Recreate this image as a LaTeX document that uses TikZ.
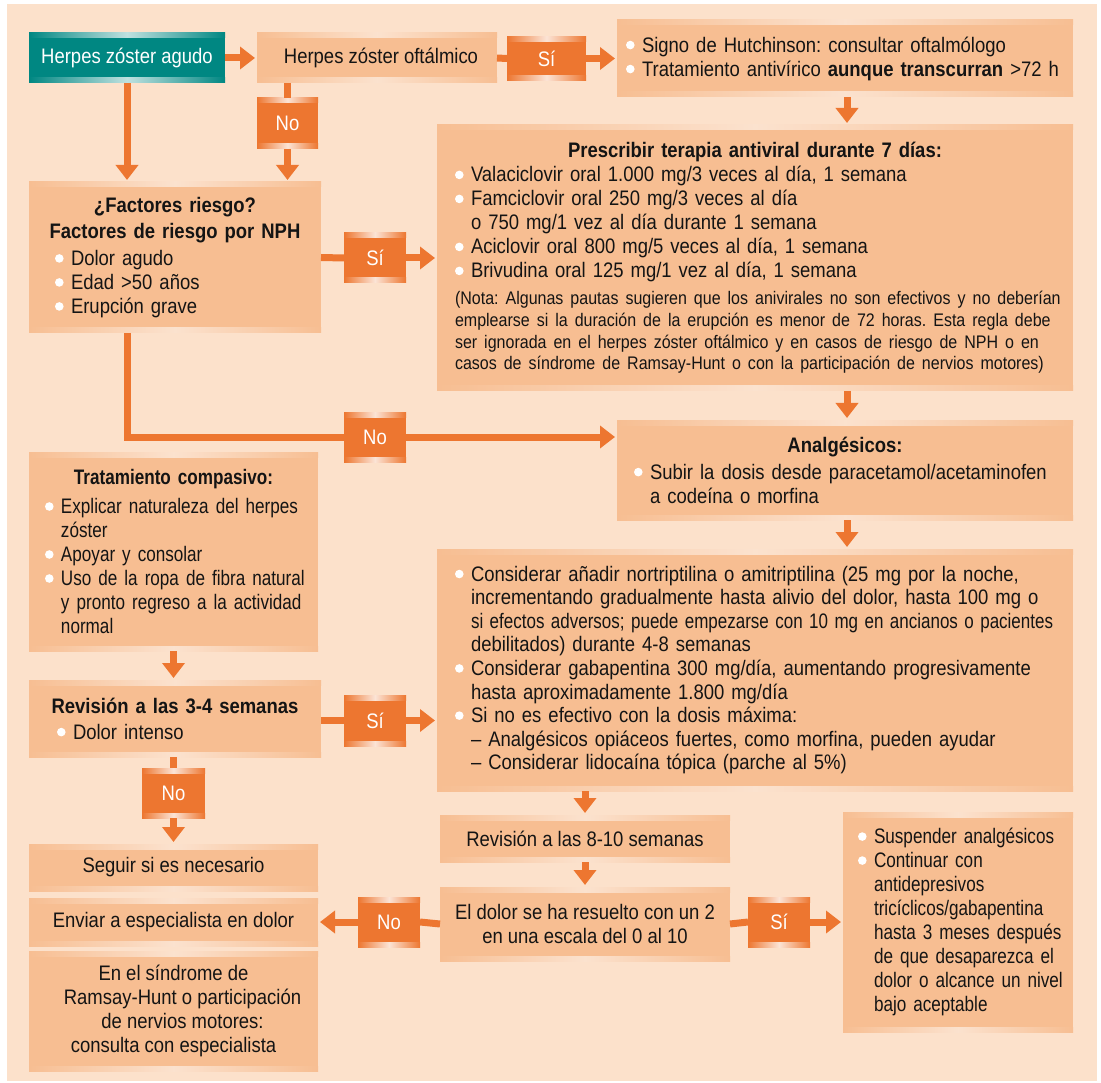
\documentclass[tikz,border=0pt]{standalone}
\usepackage{graphicx}
\usepackage{fontspec}
\setmainfont{Liberation Sans}[FakeStretch=0.88]
\newfontfamily\narrowf{Liberation Sans}[FakeStretch=0.815]
\usetikzlibrary{arrows.meta}
\definecolor{bgc}{RGB}{252,225,203}
\definecolor{boxc}{RGB}{247,190,146}
\definecolor{orc}{RGB}{237,118,48}
\definecolor{tealc}{RGB}{0,135,130}
\definecolor{txt}{RGB}{20,20,20}
\setlength{\parindent}{0pt}
\setlength{\parskip}{0pt}
\frenchspacing
\newcommand\fs{\fontsize{21}{24}\selectfont}
\newcommand\fsn{\fontsize{18.2}{21.7}\selectfont}
\newcommand\bl{\makebox[16pt][l]{\tikz[baseline=0pt]{\useasboundingbox (0pt,0pt) rectangle (9pt,1pt);\fill[white] (4.3pt,7pt) circle (4.3pt);}}}
\newcommand\ind{\hspace*{16pt}}
\newcommand\li[1]{\mbox{#1}\par}
\newcommand\ct[1]{\makebox[\hsize][c]{#1}\par}
\newcommand\stripes[2]{%
  \shade[left color=#1,right color=#1,middle color=white!#2!#1]
    (path picture bounding box.north west) rectangle ([yshift=-5pt]path picture bounding box.north east);
  \shade[left color=#1,right color=#1,middle color=white!#2!#1]
    ([yshift=5pt]path picture bounding box.south west) rectangle (path picture bounding box.south east);}
\tikzset{
  bx/.style 2 args={minimum width=#1pt, minimum height=#2pt},
  box/.style={fill=boxc, text=txt, inner ysep=0pt, font=\fs, align=left, path picture={\stripes{boxc}{55}}},
  cbox/.style={fill=boxc, text=txt, inner sep=0pt, font=\fs, align=center, path picture={\stripes{boxc}{55}}},
  tbox/.style={fill=tealc, text=white, inner sep=0pt, font=\fs, align=center, path picture={\stripes{tealc}{75}}},
  lbl/.style={fill=orc, text=white, inner sep=0pt, font=\fs, path picture={\stripes{orc}{80}}},
  ln/.style={draw=orc, line width=7pt},
  arr/.style={draw=orc, line width=7pt, shorten >=2pt, -{Triangle[width=22pt,length=15pt]}},
}
\begin{document}
\begin{tikzpicture}[x=1pt,y=-1pt, every node/.style={outer sep=0pt}]
\useasboundingbox (0,0) rectangle (1101,1083);
\fill[white] (0,0) rectangle (1101,1083);
\fill[bgc] (7,4) rectangle (1097,1081);

% boxes
\node[tbox, bx={196}{50}] (b1) at (127,58) {Herpes zóster agudo};
\node[cbox, bx={240}{50}] (b2) at (377,58) {\hspace*{8pt}Herpes zóster oftálmico};
\node[lbl, bx={79}{44}] (s1) at (546.5,58.5) {Sí};
\node[box, bx={456}{77}, text width=438pt, inner xsep=9pt] (b3) at (845,58.5) {%
\li{\bl Signo de Hutchinson: consultar oftalmólogo}
\li{\bl Tratamiento antivírico \textbf{aunque transcurran} >72 h}};

\node[box, bx={636}{266}, text width=600pt, inner xsep=18pt] (b4) at (755,258) {%
\ct{\bfseries Prescribir terapia antiviral durante 7 días:}
\li{\bl Valaciclovir oral 1.000 mg/3 veces al día, 1 semana}
\li{\bl Famciclovir oral 250 mg/3 veces al día}
\li{\ind o 750 mg/1 vez al día durante 1 semana}
\li{\bl Aciclovir oral 800 mg/5 veces al día, 1 semana}
\li{\bl Brivudina oral 125 mg/1 vez al día, 1 semana}
{\fsn\vspace{5pt}%
\li{(Nota: Algunas pautas sugieren que los anivirales no son efectivos y no deberían}
\li{emplearse si la duración de la erupción es menor de 72 horas. Esta regla debe}
\li{ser ignorada en el herpes zóster oftálmico y en casos de riesgo de NPH o en}
\li{casos de síndrome de Ramsay-Hunt o con la participación de nervios motores)}}};

\node[lbl, bx={61}{51}] (n1) at (287.5,123.5) {No};

\node[box, bx={292}{151}, text width=240pt, inner xsep=26pt] (b5) at (175,257.5) {%
\ct{\bfseries ¿Factores riesgo?}\vspace{2pt}
\ct{\bfseries Factores de riesgo por NPH}\vspace{3pt}
\li{\bl Dolor agudo}
\li{\bl Edad >50 años}
\li{\bl Erupción grave}};

\node[lbl, bx={62}{50}] (s2) at (375,258) {Sí};
\node[lbl, bx={62}{50}] (n2) at (375,437) {No};

\node[box, bx={456}{100}, text width=422pt, inner xsep=17pt] (b6) at (845,470) {%
\ct{\bfseries Analgésicos:}\vspace{3pt}
\li{\bl Subir la dosis desde paracetamol/acetaminofen}
\li{\ind a codeína o morfina}};

\node[box, bx={636}{242}, text width=600pt, inner xsep=18pt, font=\fontsize{21}{23.6}\selectfont] (b7) at (755,670) {%
\li{\bl Considerar añadir nortriptilina o amitriptilina (25 mg por la noche,}
\li{\ind incrementando gradualmente hasta alivio del dolor, hasta 100 mg o}
\li{\ind \scalebox{0.92}[1]{si efectos adversos; puede empezarse con 10 mg en ancianos o pacientes}}
\li{\ind debilitados) durante 4-8 semanas}
\li{\bl Considerar gabapentina 300 mg/día, aumentando progresivamente}
\li{\ind hasta aproximadamente 1.800 mg/día}
\li{\bl Si no es efectivo con la dosis máxima:}
\li{\ind – Analgésicos opiáceos fuertes, como morfina, pueden ayudar}
\li{\ind – Considerar lidocaína tópica (parche al 5\%)}};

\node[box, bx={289}{199}, text width=257pt, inner xsep=16pt, font=\narrowf\fs] (b8) at (173.5,551.5) {%
\ct{\bfseries Tratamiento compasivo:}\vspace{5pt}
\li{\bl Explicar naturaleza del herpes}
\li{\ind zóster}
\li{\bl Apoyar y consolar}
\li{\bl Uso de la ropa de fibra natural}
\li{\ind y pronto regreso a la actividad}
\li{\ind normal}};

\node[box, bx={292}{77}, text width=236pt, inner xsep=28pt] (b9) at (175,718.5) {%
\ct{\bfseries Revisión a las 3-4 semanas}\vspace{2pt}
\li{\bl Dolor intenso}};

\node[lbl, bx={62}{51}] (s3) at (375,720.5) {Sí};
\node[lbl, bx={63}{50}] (n3) at (173.5,793) {No};

\node[cbox, bx={289}{47}] (b10) at (173.5,867.5) {Seguir si es necesario};
\node[cbox, bx={289}{48}] (b11) at (173.5,922) {Enviar a especialista en dolor};
\node[cbox, bx={289}{120}, font=\fontsize{21}{24}\selectfont] (b12) at (173.5,1011) {En el síndrome de\\ \hspace*{18pt}Ramsay-Hunt o participación\\ \hspace*{18pt}de nervios motores:\\ consulta con especialista};

\node[cbox, bx={290}{47}] (b13) at (585,838.5) {Revisión a las 8-10 semanas};
\node[cbox, bx={290}{74}, font=\fontsize{21}{24}\selectfont] (b14) at (585,924) {El dolor se ha resuelto con un 2\\ en una escala del 0 al 10};

\node[lbl, bx={62}{50}] (n4) at (389,922) {No};
\node[lbl, bx={62}{50}] (s4) at (779,922) {Sí};

\node[box, bx={230}{220}, text width=200pt, inner xsep=15pt, font=\narrowf\fs] (b15) at (958,922) {%
\li{\bl Suspender analgésicos}
\li{\bl Continuar con}
\li{\ind antidepresivos}
\li{\ind tricíclicos/gabapentina}
\li{\ind hasta 3 meses después}
\li{\ind de que desaparezca el}
\li{\ind dolor o alcance un nivel}
\li{\ind bajo aceptable}};

% connectors
\draw[arr] (b1.east) -- (b2.west);
\draw[ln] (b2.east) -- (s1.west);
\draw[arr] (s1.east) -- (b3.west);
\draw[arr] ([xshift=2pt]b3.south) -- ([xshift=2pt]b3.south |- b4.north);
\draw[ln] (n1.north |- b2.south) -- (n1.north);
\draw[arr] (n1.south) -- (n1.south |- b5.north);
\draw[arr] (b1.south) -- (b1.south |- b5.north);
\draw[ln] (b5.east) -- (s2.west);
\draw[arr] (s2.east) -- (s2.east -| b4.west);
\draw[ln] (b1.south |- b5.south) -- (b1.south |- n2.west) -- (n2.west);
\draw[arr] (n2.east) -- (n2.east -| b6.west);
\draw[arr] ([xshift=2pt]b6.north |- b4.south) -- ([xshift=2pt]b6.north);
\draw[arr] ([xshift=2pt]b6.south) -- ([xshift=2pt]b6.south |- b7.north);
\draw[arr] (b8.south) -- (b8.south |- b9.north);
\draw[ln] (b9.east |- s3.west) -- (s3.west);
\draw[arr] (s3.east) -- (s3.east -| b7.west);
\draw[ln] (n3.north |- b9.south) -- (n3.north);
\draw[arr] (n3.south) -- (n3.south |- b10.north);
\draw[arr] (b13.north |- b7.south) -- (b13.north);
\draw[arr] (b13.south) -- (b14.north);
\draw[ln] (b14.west) -- (n4.east);
\draw[arr] (n4.west) -- (n4.west -| b11.east);
\draw[ln] (b14.east) -- (s4.west);
\draw[arr] (s4.east) -- (s4.east -| b15.west);
\end{tikzpicture}
\end{document}
